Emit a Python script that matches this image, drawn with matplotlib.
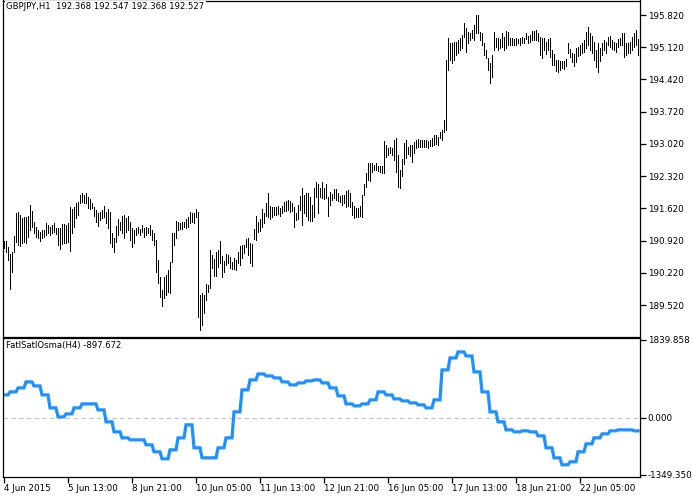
import numpy as np
import matplotlib.pyplot as plt

# GBPJPY H1 bars (high / low), oldest first
highs = [
    190.91, 190.91, 190.78, 190.63, 190.67, 191.02, 191.52, 191.54, 191.48, 191.41,
    191.43, 191.43, 191.45, 191.69, 191.56, 191.32, 191.21, 191.15, 191.11, 191.15,
    191.15, 191.30, 191.26, 191.21, 191.26, 191.30, 191.19, 191.19, 191.19, 191.28,
    191.28, 191.26, 191.30, 191.65, 191.61, 191.65, 191.74, 191.76, 191.91, 191.95,
    191.91, 191.95, 191.87, 191.82, 191.74, 191.65, 191.58, 191.52, 191.54, 191.58,
    191.67, 191.54, 191.61,
    191.54, 191.08, 190.98, 191.24, 191.39, 191.32, 191.45, 191.48, 191.41, 191.45,
    191.32, 191.19, 191.15, 191.19, 191.21, 191.17, 191.26, 191.19, 191.21, 191.19,
    191.26, 191.15, 191.08, 190.93, 190.50, 190.13, 189.85, 190.13, 190.17, 190.28,
    190.45, 191.08, 191.08, 191.35, 191.32, 191.30, 191.32, 191.32, 191.39, 191.43,
    191.54, 191.52, 191.52, 191.61, 191.54, 189.74, 189.78, 189.74, 189.98, 189.96,
    190.72, 190.61, 190.52,
    190.67, 190.72, 190.91, 190.58, 190.48, 190.63, 190.61, 190.56, 190.45, 190.54,
    190.50, 190.67, 190.80, 190.82, 190.82, 190.95, 190.98, 190.87, 190.85, 191.17,
    191.45, 191.32, 191.39, 191.61, 191.52, 191.74, 191.95, 191.67, 191.65, 191.65,
    191.65, 191.67, 191.63, 191.67, 191.76, 191.78, 191.80, 191.78, 191.74, 191.65,
    191.52, 191.69, 191.89, 192.06, 191.91, 191.95, 191.95, 191.87, 191.69, 192.06,
    192.19, 192.15,
    192.06, 192.19, 192.06, 192.15, 191.87, 191.97, 191.93, 192.04, 192.04, 191.95,
    191.89, 191.91, 191.91, 192.00, 192.02, 191.95, 191.76, 191.67, 191.63, 191.63,
    191.67, 191.91, 192.15, 192.39, 192.60, 192.60, 192.60, 192.56, 192.60, 192.54,
    192.54, 192.54, 193.08, 193.00, 192.93, 192.95, 192.93, 193.10, 193.15, 192.78,
    192.45, 192.69, 193.04, 193.10, 192.95, 193.00, 193.00, 193.06, 193.10, 193.13,
    193.10, 193.10, 193.10,
    193.10, 193.08, 193.10, 193.15, 193.21, 193.21, 193.17, 193.28, 193.32, 193.54,
    194.84,
    195.32, 195.21, 195.21, 195.23, 195.23, 195.28, 195.32, 195.39, 195.65, 195.54,
    195.45, 195.43, 195.49, 195.60, 195.82, 195.82, 195.45, 195.43, 195.21, 195.06,
    194.89, 194.78, 194.95, 195.45, 195.32, 195.32, 195.30, 195.43, 195.34, 195.47,
    195.45, 195.32, 195.32, 195.30, 195.32, 195.30, 195.32, 195.34, 195.32,
    195.43, 195.36, 195.39, 195.47, 195.47, 195.49, 195.43, 195.34, 195.32, 195.32,
    195.23, 195.30, 195.32, 195.06, 194.97, 194.84, 194.84, 194.82, 194.82, 194.82,
    194.86, 195.21, 195.08, 194.99, 194.97, 195.10, 195.13, 195.17, 195.21, 195.28,
    195.45, 195.56, 195.43, 195.36, 195.23, 195.06, 195.21, 195.10, 195.21, 195.28,
    195.23, 195.34, 195.36, 195.28, 195.23, 195.21, 195.30, 195.32, 195.43, 195.43,
    195.21, 195.21, 195.23, 195.34, 195.43, 195.49, 195.30,
]
lows = [
    190.76, 190.67, 190.50, 189.87, 190.24, 190.67, 190.89, 190.82, 190.80, 190.87,
    190.89, 190.87, 191.00, 191.15, 191.21, 191.08, 191.00, 190.98, 190.91, 190.98,
    191.00, 191.04, 191.08, 191.04, 191.08, 191.11, 191.06, 190.82, 190.74, 190.85,
    190.87, 190.87, 190.89, 190.69, 191.08, 191.21, 191.41, 191.48, 191.74, 191.76,
    191.74, 191.74, 191.63, 191.61, 191.63, 191.45, 191.32, 191.24, 191.37, 191.41,
    191.43, 191.30, 191.19,
    190.87, 190.78, 190.67, 190.89, 191.04, 191.15, 191.08, 190.98, 191.11, 191.15,
    190.93, 190.78, 190.87, 191.04, 191.08, 191.04, 191.11, 191.00, 191.04, 191.08,
    191.04, 190.93, 190.82, 190.24, 190.00, 189.69, 189.50, 189.67, 189.74, 189.80,
    189.78, 190.45, 190.82, 190.98, 191.15, 191.17, 191.17, 191.21, 191.19, 191.21,
    191.30, 191.32, 191.30, 191.43, 189.26, 188.98, 189.09, 189.35, 189.63, 189.80,
    189.89, 190.32, 190.15,
    190.15, 190.35, 190.43, 190.13, 190.24, 190.39, 190.43, 190.32, 190.30, 190.30,
    190.28, 190.43, 190.39, 190.54, 190.65, 190.78, 190.61, 190.43, 190.37, 190.95,
    190.93, 191.11, 191.13, 191.21, 191.30, 191.45, 191.43, 191.39, 191.43, 191.48,
    191.48, 191.50, 191.45, 191.52, 191.56, 191.56, 191.58, 191.54, 191.56, 191.21,
    191.37, 191.39, 191.58, 191.26, 191.52, 191.45, 191.37, 191.35, 191.35, 191.43,
    191.87, 191.52,
    191.87, 191.84, 191.82, 191.84, 191.45, 191.69, 191.80, 191.84, 191.80, 191.78,
    191.76, 191.69, 191.74, 191.65, 191.67, 191.65, 191.48, 191.41, 191.43, 191.43,
    191.45, 191.43, 191.91, 192.08, 192.24, 192.21, 192.41, 192.45, 192.45, 192.43,
    192.41, 192.39, 192.39, 192.74, 192.78, 192.82, 192.78, 192.67, 192.41, 192.08,
    192.06, 192.32, 192.58, 192.71, 192.80, 192.76, 192.63, 192.82, 192.93, 192.95,
    192.95, 192.95, 192.95,
    192.95, 192.93, 192.97, 192.97, 193.00, 193.02, 193.00, 193.15, 193.10, 193.28,
    193.32,
    194.63, 194.84, 194.78, 194.84, 194.95, 194.99, 195.06, 195.10, 195.34, 195.02,
    195.21, 195.28, 195.32, 195.28, 195.43, 195.43, 195.28, 195.17, 194.95, 194.89,
    194.63, 194.34, 194.47, 195.06, 195.13, 195.06, 195.10, 195.13, 195.06, 195.10,
    195.17, 195.17, 195.17, 195.17, 195.17, 195.21, 195.17, 195.21, 195.21,
    195.30, 195.21, 195.23, 195.28, 195.28, 195.28, 195.26, 194.95, 194.89, 195.06,
    194.97, 195.06, 194.91, 194.73, 194.73, 194.60, 194.58, 194.63, 194.67, 194.65,
    194.71, 194.99, 194.91, 194.80, 194.71, 194.80, 194.93, 194.95, 194.99, 195.02,
    195.10, 195.17, 195.06, 194.99, 194.84, 194.69, 194.58, 194.82, 194.95, 195.06,
    194.99, 195.17, 195.13, 195.08, 195.06, 195.02, 195.13, 195.17, 195.17, 194.91,
    194.95, 194.99, 194.99, 195.06, 195.13, 195.17, 194.95,
]

# FatlSatlOsma (H4) values, one per H4 bar
osma_h4 = [
    543, 614, 708, 850, 755, 543, 236, 24, 94, 236,
    330, 330, 189, -94, -330, -472, -519, -519, -637, -802,
    -968, -755, -472, -165, -708, -944, -944, -708, -472, 142,
    661, 897, 1038, 991, 944, 850, 779, 826, 873, 897,
    826, 708, 519, 330, 283, 330, 425, 614, 543, 448,
    401, 354, 307, 236, 425, 1133, 1416, 1558, 1463, 1086,
    614, 142, -94, -283, -330, -307, -330, -425, -708, -944,
    -1109, -1038, -802, -614, -472, -378, -307, -283, -283, -307,
]
# H1 bars covered by each H4 bar
h4_span = [3] + [4] * 78 + [3]

price_ticks = [189.520, 190.220, 190.920, 191.620, 192.320, 193.020,
               193.720, 194.420, 195.120, 195.820]
osma_ticks = [-1349.350, 0.0, 1839.858]
time_labels = ["4 Jun 2015", "5 Jun 13:00", "8 Jun 21:00", "10 Jun 05:00",
               "11 Jun 13:00", "12 Jun 21:00", "16 Jun 05:00", "17 Jun 13:00",
               "18 Jun 21:00", "22 Jun 05:00"]
time_pos = [0, 32, 64, 96, 128, 160, 192, 224, 256, 288]

n = len(highs)
idx = np.arange(n)
osma = np.repeat(osma_h4, h4_span)

W, H = 692, 497
fig = plt.figure(figsize=(W / 100, H / 100), dpi=100)
ax1 = fig.add_axes([2.5 / W, (H - 336.5) / H, 637.5 / W, 336 / H])
ax2 = fig.add_axes([2.5 / W, (H - 477) / H, 637.5 / W, 139 / H])

# price bars
ax1.vlines(idx, lows, highs, color="black", linewidth=0.72, antialiased=False)
ax1.set_xlim(-0.75, 318)
ax1.set_ylim(188.836, 196.135)
ax1.set_xticks([])
ax1.yaxis.tick_right()
ax1.set_yticks(price_ticks)
ax1.set_yticklabels([f"{t:.3f}" for t in price_ticks])
ax1.text(0.006, 0.995, "GBPJPY,H1  192.368 192.547 192.368 192.527",
         transform=ax1.transAxes, ha="left", va="top", fontsize=6.1,
         bbox=dict(facecolor="white", edgecolor="none", pad=1))

# indicator
ax2.axhline(0, color="#c0c0c0", linewidth=0.8, linestyle=(0, (4, 3)))
ax2.plot(idx, osma, color="#1e90ff", linewidth=2.3, solid_joinstyle="miter")
ax2.set_xlim(-0.75, 318)
ax2.set_ylim(-1397, 1887)
ax2.yaxis.tick_right()
ax2.set_yticks(osma_ticks)
ax2.set_yticklabels([f"{t:.3f}" for t in osma_ticks])
ax2.set_xticks(time_pos)
ax2.set_xticklabels(time_labels, ha="left")
ax2.text(0.006, 0.975, "FatlSatlOsma(H4) -897.672", transform=ax2.transAxes,
         ha="left", va="top", fontsize=6.1)

for ax in (ax1, ax2):
    for s in ax.spines.values():
        s.set_linewidth(0.9)
    ax.tick_params(axis="both", length=4, width=0.9, labelsize=6.3, pad=1.5,
                   direction="out")
ax2.tick_params(axis="x", pad=0.8)

fig.savefig("out.png", dpi=100)
